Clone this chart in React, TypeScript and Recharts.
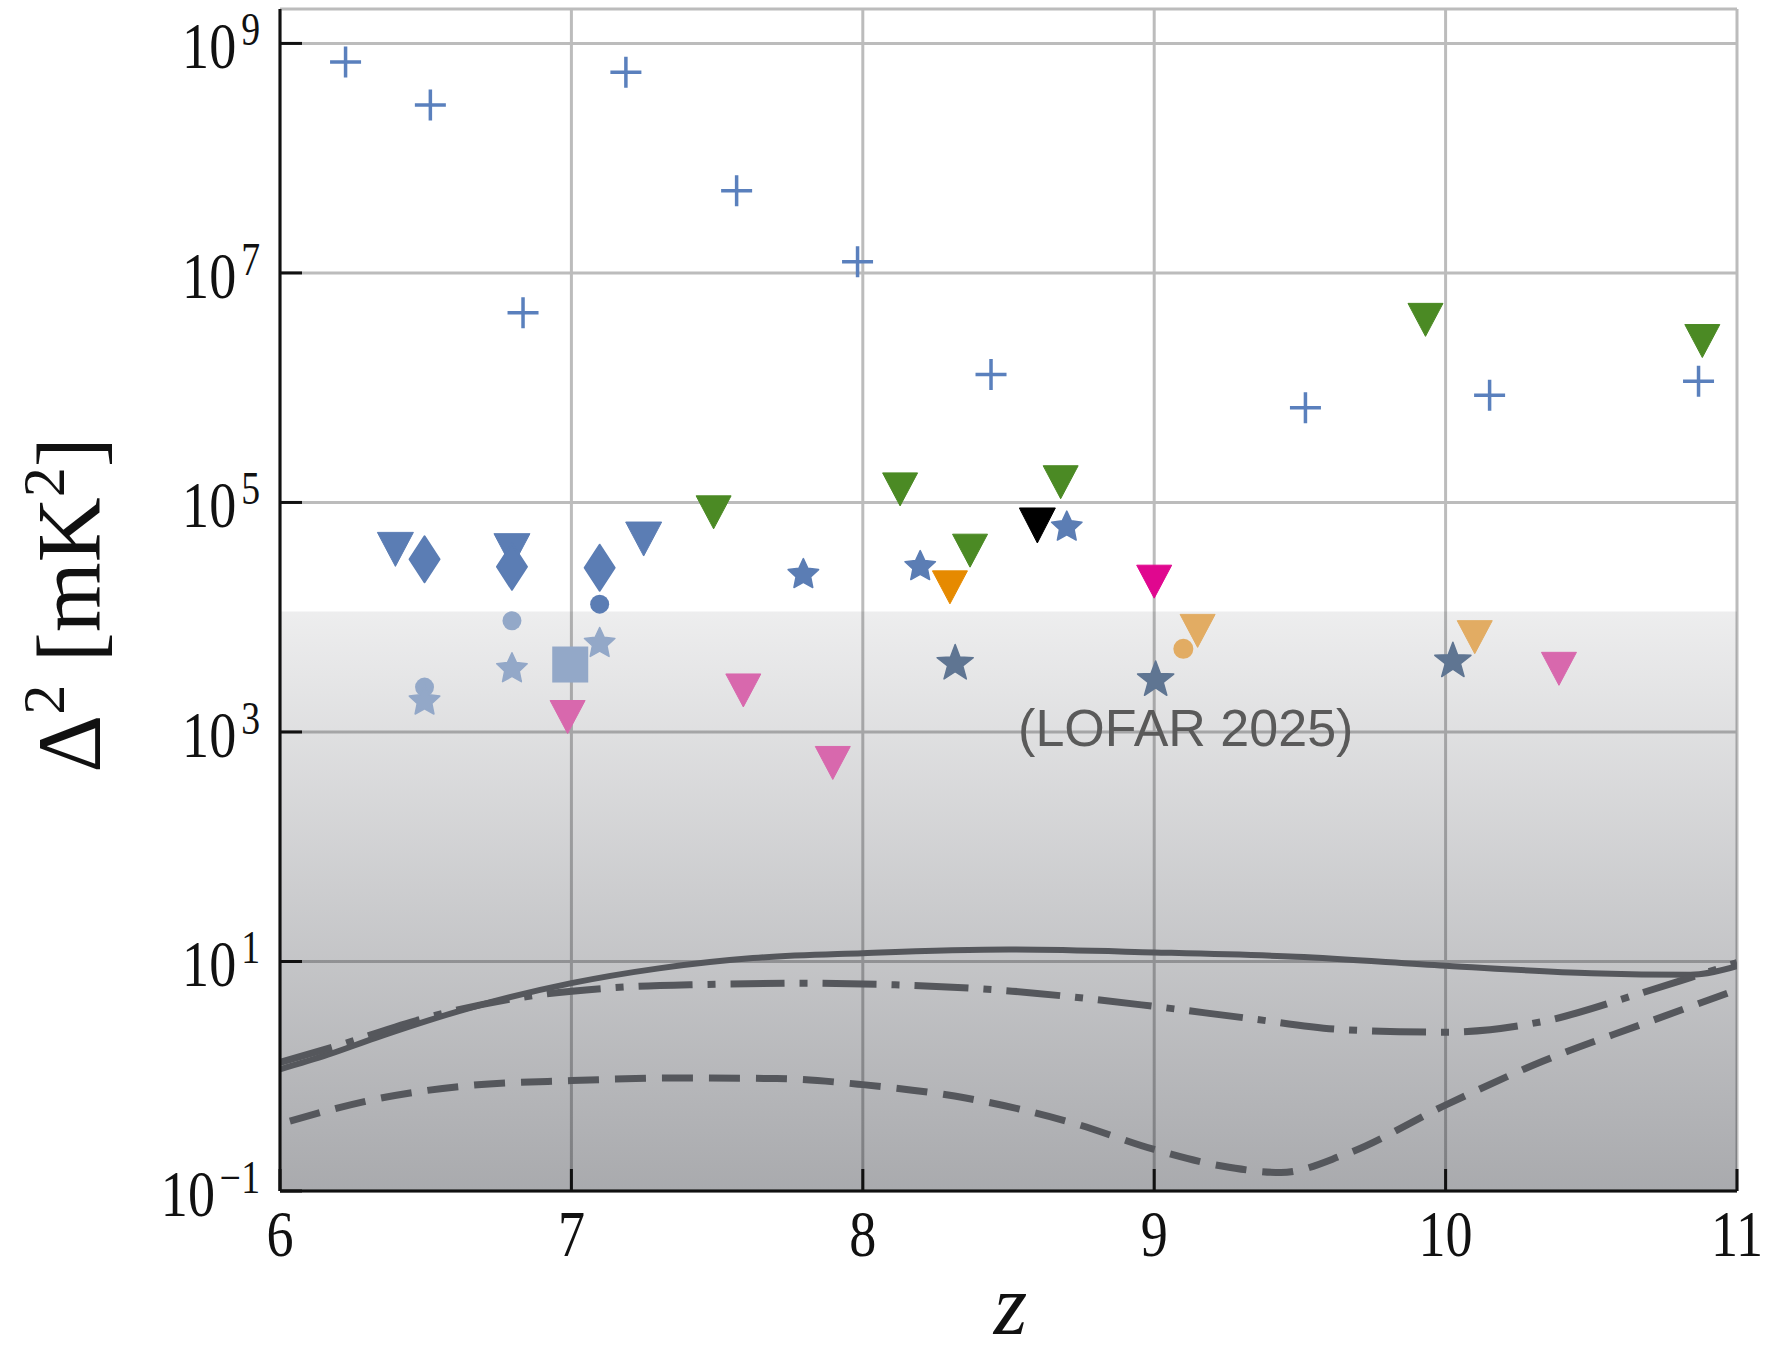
import React from "react";
import {
  CartesianGrid,
  ComposedChart,
  Line,
  ReferenceArea,
  ReferenceDot,
  Scatter,
  XAxis,
  YAxis,
} from "recharts";

// values (z, Delta^2 in mK^2)
const crossZ = [6.225, 6.516, 6.834, 7.187, 7.567, 7.982, 8.44, 9.519, 10.151, 10.868];
const crossP = [6.9e8, 2.9e8, 4.5e6, 5.6e8, 5.2e7, 1.25e7, 1.3e6, 6.7e5, 8.6e5, 1.14e6];

const greenZ = [7.488, 8.128, 8.679, 8.368, 9.931, 10.881];
const greenP = [8.2e4, 1.3e5, 1.5e5, 3.8e4, 3.9e6, 2.55e6];

const blueTriZ = [6.396, 6.796, 7.248];
const blueTriP = [3.9e4, 3.8e4, 4.8e4];

const blueDiaZ = [6.496, 6.796, 7.097];
const blueDiaP = [3.2e4, 2.75e4, 2.7e4];

const blueDotZ = [7.097];
const blueDotP = [1.3e4];

const blueStarZ = [7.796, 8.197, 8.7];
const blueStarP = [2.43e4, 2.85e4, 6.3e4];

const blackZ = [8.599];
const blackP = [6.3e4];

const orangeZ = [8.299];
const orangeP = [1.82e4];

const magentaZ = [9.0];
const magentaP = [2.04e4];

const tanTriZ = [9.149, 10.1];
const tanTriP = [7.6e3, 6.7e3];
const tanDotZ = [9.1];
const tanDotP = [5.3e3];

const slateZ = [8.317, 9.005, 10.025];
const slateP = [4.1e3, 2.95e3, 4.3e3];

const pinkZ = [6.987, 7.59, 7.897, 10.389];
const pinkP = [1.35e3, 2.3e3, 537, 3.55e3];

const paleDotZ = [6.796, 6.496];
const paleDotP = [9.3e3, 2.46e3];
const paleStarZ = [6.796, 7.097, 6.496];
const paleStarP = [3.67e3, 6.1e3, 1.92e3];
const paleSqZ = [6.996];
const paleSqP = [3.87e3];

// model curves
const solidZ = [6.0, 6.164, 6.326, 6.65, 7.0, 7.3, 7.623, 8.0, 8.5, 9.0, 9.487, 10.0, 10.5, 10.84, 11.0];
const solidP = [1.15, 1.54, 2.15, 3.93, 6.47, 8.71, 10.7, 11.8, 12.7, 12.0, 11.0, 9.2, 7.9, 7.66, 9.1];

const dashDotZ = [6.0, 6.213, 6.488, 6.812, 7.137, 7.461, 7.785, 8.11, 8.471, 9.0, 9.317, 9.656, 9.994, 10.333, 10.671, 10.84, 11.0];
const dashDotP = [1.32, 1.9, 3.16, 4.79, 5.89, 6.31, 6.46, 6.27, 5.62, 4.06, 3.21, 2.54, 2.42, 3.0, 5.3, 7.24, 9.77];

const dashedZ = [6.034, 6.326, 6.65, 7.0, 7.38, 7.704, 8.0, 8.353, 8.725, 9.0, 9.232, 9.435, 9.656, 10.003, 10.333, 10.671, 11.0];
const dashedP = [0.407, 0.63, 0.83, 0.916, 0.966, 0.955, 0.845, 0.646, 0.389, 0.23, 0.165, 0.145, 0.209, 0.566, 1.35, 2.82, 5.66];

// shaded region below the upper limit
const bandTop = 1.12e4;

const xTicks = [6, 7, 8, 9, 10, 11];
const yTicks = [0.1, 10, 1e3, 1e5, 1e7, 1e9];
const yExp = ["\u22121", "1", "3", "5", "7", "9"];

const pts = (zs: number[], ps: number[]) => zs.map((z, i) => ({ z, p: ps[i] }));

const serif = "'Liberation Serif', 'DejaVu Serif', serif";

const tri = (color: string, w = 35, h = 33) => (props: any) => {
  const { cx, cy } = props;
  return (
    <path
      d={`M${cx - w / 2},${cy - h / 2}L${cx + w / 2},${cy - h / 2}L${cx},${cy + h / 2}Z`}
      fill={color}
      strokeLinejoin="round"
      stroke={color}
      strokeWidth={1}
    />
  );
};

const diamond = (color: string, w = 30, h = 46) => (props: any) => {
  const { cx, cy } = props;
  return (
    <path
      d={`M${cx},${cy - h / 2}L${cx + w / 2},${cy}L${cx},${cy + h / 2}L${cx - w / 2},${cy}Z`}
      fill={color}
      stroke={color}
      strokeLinejoin="round"
      strokeWidth={2}
    />
  );
};

const circle = (color: string, r = 9.5) => (props: any) => (
  <circle cx={props.cx} cy={props.cy} r={r} fill={color} />
);

const square = (color: string, s = 36) => (props: any) => (
  <rect x={props.cx - s / 2} y={props.cy - s / 2} width={s} height={s} fill={color} />
);

const star = (color: string, R = 16, ratio = 0.48) => (props: any) => {
  const { cx, cy } = props;
  let d = "";
  for (let k = 0; k < 10; k++) {
    const rr = k % 2 === 0 ? R : R * ratio;
    const a = -Math.PI / 2 + (k * Math.PI) / 5;
    d += `${k === 0 ? "M" : "L"}${cx + rr * Math.cos(a)},${cy + rr * Math.sin(a) + R * 0.1}`;
  }
  return <path d={d + "Z"} fill={color} stroke={color} strokeWidth={1.5} strokeLinejoin="round" />;
};

const cross = (color: string, s = 31) => (props: any) => {
  const { cx, cy } = props;
  return (
    <path
      d={`M${cx - s / 2},${cy}H${cx + s / 2}M${cx},${cy - s / 2}V${cy + s / 2}`}
      stroke={color}
      strokeWidth={3.5}
      fill="none"
    />
  );
};

const YTick = (props: any) => {
  const { x, y, index } = props;
  return (
    <g>
      <line x1={x + 20} x2={x + 42} y1={y} y2={y} stroke="#111" strokeWidth={3} />
      <g transform={`translate(${x},${y + 25}) scale(0.82,1)`}>
        <text x={0} y={0} textAnchor="end" fontFamily={serif} fontSize={66} fill="#111">
          <tspan>10</tspan>
          <tspan dx={6} dy={-23} fontSize={46}>
            {yExp[index]}
          </tspan>
        </text>
      </g>
    </g>
  );
};

const XTick = (props: any) => {
  const { x, y, payload } = props;
  return (
    <g>
      <line x1={x} x2={x} y1={y} y2={y - 22} stroke="#111" strokeWidth={3} />
      <g transform={`translate(${x},${y + 65}) scale(0.82,1)`}>
        <text x={0} y={0} textAnchor="middle" fontFamily={serif} fontSize={66} fill="#111">
          {payload.value}
        </text>
      </g>
    </g>
  );
};

const YTitle = (props: any) => {
  const vb = props.viewBox || { x: 0, y: 9, width: 280, height: 1182 };
  const cx = vb.x + 100;
  const cy = vb.y + vb.height / 2 + 5;
  return (
    <text
      transform={`translate(${cx},${cy}) rotate(-90)`}
      textAnchor="middle"
      fontFamily={serif}
      fontSize={90}
      fill="#111"
    >
      <tspan>{"\u0394"}</tspan>
      <tspan dy={-36} fontSize={60}>2</tspan>
      <tspan dy={36}> [mK</tspan>
      <tspan dy={-36} fontSize={60}>2</tspan>
      <tspan dy={36}>]</tspan>
    </text>
  );
};

const XTitle = (props: any) => {
  const vb = props.viewBox || { x: 280, y: 1191, width: 1457, height: 167 };
  return (
    <text
      x={vb.x + vb.width / 2 + 2}
      y={vb.y + 143}
      textAnchor="middle"
      fontFamily={serif}
      fontStyle="italic"
      fontSize={86}
      fill="#111"
    >
      z
    </text>
  );
};

const LofarNote = (props: any) => {
  const vb = props.viewBox;
  if (!vb) return null;
  return (
    <text
      x={vb.x + vb.width / 2}
      y={vb.y + vb.height / 2}
      textAnchor="start"
      fontFamily="'Liberation Sans', Arial, sans-serif"
      fontSize={52}
      fill="#5a5a5a"
    >
      (LOFAR 2025)
    </text>
  );
};

export default function App() {
  return (
    <div style={{ width: 1774, height: 1358, background: "#fff" }}>
      <style>{`body{margin:0}`}</style>
      <ComposedChart
        width={1774}
        height={1358}
        margin={{ top: 9, right: 37, bottom: 0, left: 0 }}
      >
        <defs>
          <linearGradient id="band" x1="0" y1="0" x2="0" y2="1">
            <stop offset="0%" stopColor="#02050f" stopOpacity={0.07} />
            <stop offset="100%" stopColor="#02050f" stopOpacity={0.34} />
          </linearGradient>
        </defs>
        <CartesianGrid stroke="#bcbcbc" strokeWidth={3} />
        <XAxis
          dataKey="z"
          type="number"
          domain={[6, 11]}
          allowDataOverflow
          ticks={xTicks}
          height={167}
          tickSize={0}
          tickMargin={0}
          tickLine={false}
          tick={<XTick />}
          axisLine={{ stroke: "#111", strokeWidth: 3 }}
          label={<XTitle />}
        />
        <XAxis
          xAxisId="top"
          orientation="top"
          type="number"
          domain={[6, 11]}
          height={0}
          tick={false}
          tickLine={false}
          axisLine={{ stroke: "#111", strokeWidth: 3 }}
        />
        <YAxis
          dataKey="p"
          type="number"
          scale="log"
          domain={[0.1, 1.995e9]}
          allowDataOverflow
          ticks={yTicks}
          width={280}
          tickSize={0}
          tickMargin={20}
          tickLine={false}
          tick={<YTick />}
          axisLine={{ stroke: "#111", strokeWidth: 3 }}
          label={<YTitle />}
        />
        <YAxis
          yAxisId="right"
          orientation="right"
          type="number"
          domain={[0, 1]}
          width={0}
          tick={false}
          tickLine={false}
          axisLine={{ stroke: "#111", strokeWidth: 3 }}
        />
        <ReferenceArea x1={6} x2={11} y1={0.1} y2={bandTop} fill="url(#band)" fillOpacity={1} stroke="none" />

        <Line data={pts(solidZ, solidP)} dataKey="p" type="monotone" stroke="#55575c" strokeWidth={6} dot={false} isAnimationActive={false} />
        <Line data={pts(dashDotZ, dashDotP)} dataKey="p" type="monotone" stroke="#55575c" strokeWidth={7} strokeDasharray="54 15 8 15" dot={false} isAnimationActive={false} />
        <Line data={pts(dashedZ, dashedP)} dataKey="p" type="monotone" stroke="#55575c" strokeWidth={7} strokeDasharray="31 16" dot={false} isAnimationActive={false} />

        <Scatter data={pts(paleDotZ, paleDotP)} shape={circle("#93a8c8")} isAnimationActive={false} />
        <Scatter data={pts(paleStarZ, paleStarP)} shape={star("#93a8c8")} isAnimationActive={false} />
        <Scatter data={pts(paleSqZ, paleSqP)} shape={square("#93a8c8")} isAnimationActive={false} />
        <Scatter data={pts(pinkZ, pinkP)} shape={tri("#d868ad")} isAnimationActive={false} />
        <Scatter data={pts(slateZ, slateP)} shape={star("#5f7592", 19, 0.42)} isAnimationActive={false} />
        <Scatter data={pts(tanDotZ, tanDotP)} shape={circle("#e2ac63", 10)} isAnimationActive={false} />
        <Scatter data={pts(tanTriZ, tanTriP)} shape={tri("#e2ac63")} isAnimationActive={false} />
        <Scatter data={pts(magentaZ, magentaP)} shape={tri("#e0078f")} isAnimationActive={false} />
        <Scatter data={pts(orangeZ, orangeP)} shape={tri("#e68a00")} isAnimationActive={false} />
        <Scatter data={pts(blueDotZ, blueDotP)} shape={circle("#5b7db4")} isAnimationActive={false} />
        <Scatter data={pts(blueTriZ, blueTriP)} shape={tri("#5b7db4", 36, 34)} isAnimationActive={false} />
        <Scatter data={pts(blueDiaZ, blueDiaP)} shape={diamond("#5b7db4")} isAnimationActive={false} />
        <Scatter data={pts(blueStarZ, blueStarP)} shape={star("#5b7db4")} isAnimationActive={false} />
        <Scatter data={pts(blackZ, blackP)} shape={tri("#000000", 36, 35)} isAnimationActive={false} />
        <Scatter data={pts(greenZ, greenP)} shape={tri("#4b8a24")} isAnimationActive={false} />
        <Scatter data={pts(crossZ, crossP)} shape={cross("#5a80bd")} isAnimationActive={false} />

        <ReferenceDot
          x={8.533}
          y={760}
          r={0}
          fill="none"
          stroke="none"
          label={{ content: <LofarNote /> }}
        />
      </ComposedChart>
    </div>
  );
}
